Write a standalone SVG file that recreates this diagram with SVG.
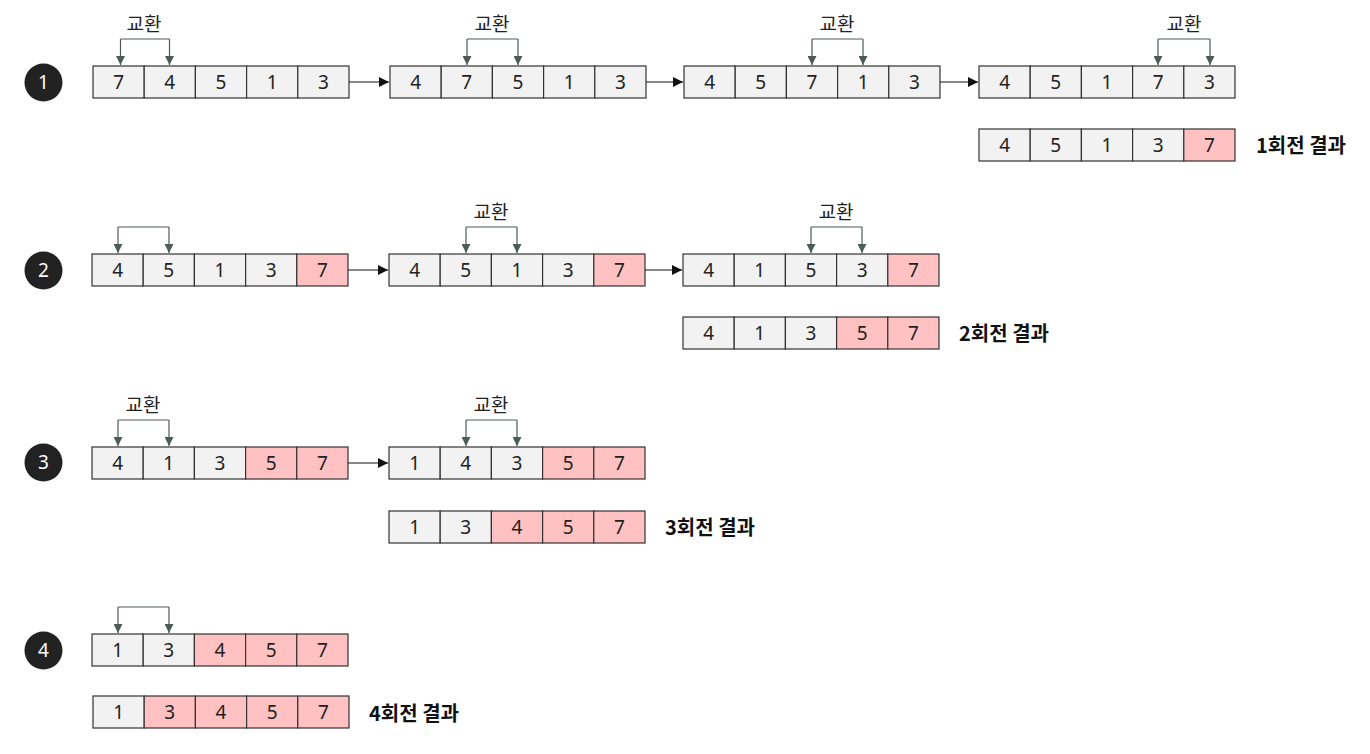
<svg xmlns="http://www.w3.org/2000/svg" width="1370" height="754" viewBox="0 0 1370 754">
<defs>
<marker id="sw" viewBox="0 0 10 10" refX="10" refY="5" markerWidth="9" markerHeight="9" markerUnits="userSpaceOnUse" orient="auto"><path d="M0,0 L10,5 L0,10 z" fill="#4d5b57"/></marker>
<marker id="ar" viewBox="0 0 10 10" refX="10" refY="5" markerWidth="10" markerHeight="10" markerUnits="userSpaceOnUse" orient="auto"><path d="M0,0 L10,5 L0,10 z" fill="#111"/></marker>
</defs>
<style>
.c{fill:#f2f2f2;stroke:#333;stroke-width:1.2}
.r{fill:#ffc1c1;stroke:#333;stroke-width:1.2}
.n{font-family:"Noto Sans","Noto Sans CJK KR",sans-serif;font-size:19px;fill:#222;text-anchor:middle}
.lbl{font-family:"Noto Sans CJK KR","Noto Sans",sans-serif;font-size:19px;fill:#222;text-anchor:middle}
.res{font-family:"Noto Sans CJK KR","Noto Sans",sans-serif;font-size:20px;font-weight:bold;fill:#111}
.sw{fill:none;stroke:#4d5b57;stroke-width:1.2}
.con{fill:none;stroke:#111;stroke-width:1}
.circ{fill:#222}
.ct{font-family:"Noto Sans",sans-serif;font-size:19px;fill:#fff;text-anchor:middle}
</style>
<rect width="1370" height="754" fill="#fff"/>

<g id="step1"><circle class="circ" cx="43.5" cy="82.5" r="19"/><text class="ct" x="43.5" y="89">1</text></g>
<g id="step2"><circle class="circ" cx="43.5" cy="270.5" r="19"/><text class="ct" x="43.5" y="277">2</text></g>
<g id="step3"><circle class="circ" cx="43.5" cy="462.5" r="19"/><text class="ct" x="43.5" y="469">3</text></g>
<g id="step4"><circle class="circ" cx="43.5" cy="650.5" r="19"/><text class="ct" x="43.5" y="657">4</text></g>

<!-- Row 1 -->
<g id="r1a1">
<rect class="c" x="93" y="66" width="51.2" height="32"/><rect class="c" x="144.2" y="66" width="51.2" height="32"/><rect class="c" x="195.4" y="66" width="51.2" height="32"/><rect class="c" x="246.6" y="66" width="51.2" height="32"/><rect class="c" x="297.8" y="66" width="51.2" height="32"/>
<text class="n" x="118.6" y="89">7</text><text class="n" x="169.8" y="89">4</text><text class="n" x="221" y="89">5</text><text class="n" x="272.2" y="89">1</text><text class="n" x="323.4" y="89">3</text>
</g>
<g id="r1a2">
<rect class="c" x="390" y="66" width="51.2" height="32"/><rect class="c" x="441.2" y="66" width="51.2" height="32"/><rect class="c" x="492.4" y="66" width="51.2" height="32"/><rect class="c" x="543.6" y="66" width="51.2" height="32"/><rect class="c" x="594.8" y="66" width="51.2" height="32"/>
<text class="n" x="415.6" y="89">4</text><text class="n" x="466.8" y="89">7</text><text class="n" x="518" y="89">5</text><text class="n" x="569.2" y="89">1</text><text class="n" x="620.4" y="89">3</text>
</g>
<g id="r1a3">
<rect class="c" x="684" y="66" width="51.2" height="32"/><rect class="c" x="735.2" y="66" width="51.2" height="32"/><rect class="c" x="786.4" y="66" width="51.2" height="32"/><rect class="c" x="837.6" y="66" width="51.2" height="32"/><rect class="c" x="888.8" y="66" width="51.2" height="32"/>
<text class="n" x="709.6" y="89">4</text><text class="n" x="760.8" y="89">5</text><text class="n" x="812" y="89">7</text><text class="n" x="863.2" y="89">1</text><text class="n" x="914.4" y="89">3</text>
</g>
<g id="r1a4">
<rect class="c" x="979" y="66" width="51.2" height="32"/><rect class="c" x="1030.2" y="66" width="51.2" height="32"/><rect class="c" x="1081.4" y="66" width="51.2" height="32"/><rect class="c" x="1132.6" y="66" width="51.2" height="32"/><rect class="c" x="1183.8" y="66" width="51.2" height="32"/>
<text class="n" x="1004.6" y="89">4</text><text class="n" x="1055.8" y="89">5</text><text class="n" x="1107" y="89">1</text><text class="n" x="1158.2" y="89">7</text><text class="n" x="1209.4" y="89">3</text>
</g>
<g id="r1res">
<rect class="c" x="979" y="129" width="51.2" height="32"/><rect class="c" x="1030.2" y="129" width="51.2" height="32"/><rect class="c" x="1081.4" y="129" width="51.2" height="32"/><rect class="c" x="1132.6" y="129" width="51.2" height="32"/><rect class="r" x="1183.8" y="129" width="51.2" height="32"/>
<text class="n" x="1004.6" y="152">4</text><text class="n" x="1055.8" y="152">5</text><text class="n" x="1107" y="152">1</text><text class="n" x="1158.2" y="152">3</text><text class="n" x="1209.4" y="152">7</text>
<text class="res" x="1256" y="153">1회전 결과</text>
</g>

<!-- Row 2 -->
<g id="r2a1">
<rect class="c" x="92" y="254" width="51.2" height="32"/><rect class="c" x="143.2" y="254" width="51.2" height="32"/><rect class="c" x="194.4" y="254" width="51.2" height="32"/><rect class="c" x="245.6" y="254" width="51.2" height="32"/><rect class="r" x="296.8" y="254" width="51.2" height="32"/>
<text class="n" x="117.6" y="277">4</text><text class="n" x="168.8" y="277">5</text><text class="n" x="220" y="277">1</text><text class="n" x="271.2" y="277">3</text><text class="n" x="322.4" y="277">7</text>
</g>
<g id="r2a2">
<rect class="c" x="389" y="254" width="51.2" height="32"/><rect class="c" x="440.2" y="254" width="51.2" height="32"/><rect class="c" x="491.4" y="254" width="51.2" height="32"/><rect class="c" x="542.6" y="254" width="51.2" height="32"/><rect class="r" x="593.8" y="254" width="51.2" height="32"/>
<text class="n" x="414.6" y="277">4</text><text class="n" x="465.8" y="277">5</text><text class="n" x="517" y="277">1</text><text class="n" x="568.2" y="277">3</text><text class="n" x="619.4" y="277">7</text>
</g>
<g id="r2a3">
<rect class="c" x="683" y="254" width="51.2" height="32"/><rect class="c" x="734.2" y="254" width="51.2" height="32"/><rect class="c" x="785.4" y="254" width="51.2" height="32"/><rect class="c" x="836.6" y="254" width="51.2" height="32"/><rect class="r" x="887.8" y="254" width="51.2" height="32"/>
<text class="n" x="708.6" y="277">4</text><text class="n" x="759.8" y="277">1</text><text class="n" x="811" y="277">5</text><text class="n" x="862.2" y="277">3</text><text class="n" x="913.4" y="277">7</text>
</g>
<g id="r2res">
<rect class="c" x="683" y="317" width="51.2" height="32"/><rect class="c" x="734.2" y="317" width="51.2" height="32"/><rect class="c" x="785.4" y="317" width="51.2" height="32"/><rect class="r" x="836.6" y="317" width="51.2" height="32"/><rect class="r" x="887.8" y="317" width="51.2" height="32"/>
<text class="n" x="708.6" y="340">4</text><text class="n" x="759.8" y="340">1</text><text class="n" x="811" y="340">3</text><text class="n" x="862.2" y="340">5</text><text class="n" x="913.4" y="340">7</text>
<text class="res" x="959" y="341">2회전 결과</text>
</g>

<!-- Row 3 -->
<g id="r3a1">
<rect class="c" x="92" y="447" width="51.2" height="32"/><rect class="c" x="143.2" y="447" width="51.2" height="32"/><rect class="c" x="194.4" y="447" width="51.2" height="32"/><rect class="r" x="245.6" y="447" width="51.2" height="32"/><rect class="r" x="296.8" y="447" width="51.2" height="32"/>
<text class="n" x="117.6" y="470">4</text><text class="n" x="168.8" y="470">1</text><text class="n" x="220" y="470">3</text><text class="n" x="271.2" y="470">5</text><text class="n" x="322.4" y="470">7</text>
</g>
<g id="r3a2">
<rect class="c" x="389" y="447" width="51.2" height="32"/><rect class="c" x="440.2" y="447" width="51.2" height="32"/><rect class="c" x="491.4" y="447" width="51.2" height="32"/><rect class="r" x="542.6" y="447" width="51.2" height="32"/><rect class="r" x="593.8" y="447" width="51.2" height="32"/>
<text class="n" x="414.6" y="470">1</text><text class="n" x="465.8" y="470">4</text><text class="n" x="517" y="470">3</text><text class="n" x="568.2" y="470">5</text><text class="n" x="619.4" y="470">7</text>
</g>
<g id="r3res">
<rect class="c" x="389" y="511" width="51.2" height="32"/><rect class="c" x="440.2" y="511" width="51.2" height="32"/><rect class="r" x="491.4" y="511" width="51.2" height="32"/><rect class="r" x="542.6" y="511" width="51.2" height="32"/><rect class="r" x="593.8" y="511" width="51.2" height="32"/>
<text class="n" x="414.6" y="534">1</text><text class="n" x="465.8" y="534">3</text><text class="n" x="517" y="534">4</text><text class="n" x="568.2" y="534">5</text><text class="n" x="619.4" y="534">7</text>
<text class="res" x="665" y="535">3회전 결과</text>
</g>

<!-- Row 4 -->
<g id="r4a1">
<rect class="c" x="92" y="634" width="51.2" height="32"/><rect class="c" x="143.2" y="634" width="51.2" height="32"/><rect class="r" x="194.4" y="634" width="51.2" height="32"/><rect class="r" x="245.6" y="634" width="51.2" height="32"/><rect class="r" x="296.8" y="634" width="51.2" height="32"/>
<text class="n" x="117.6" y="657">1</text><text class="n" x="168.8" y="657">3</text><text class="n" x="220" y="657">4</text><text class="n" x="271.2" y="657">5</text><text class="n" x="322.4" y="657">7</text>
</g>
<g id="r4res">
<rect class="c" x="93" y="696" width="51.2" height="32"/><rect class="r" x="144.2" y="696" width="51.2" height="32"/><rect class="r" x="195.4" y="696" width="51.2" height="32"/><rect class="r" x="246.6" y="696" width="51.2" height="32"/><rect class="r" x="297.8" y="696" width="51.2" height="32"/>
<text class="n" x="118.6" y="719">1</text><text class="n" x="169.8" y="719">3</text><text class="n" x="221" y="719">4</text><text class="n" x="272.2" y="719">5</text><text class="n" x="323.4" y="719">7</text>
<text class="res" x="369" y="721">4회전 결과</text>
</g>

<g id="connectors">
<path class="sw" d="M120.5,39 H169.5 M120.5,39 V65" marker-end="url(#sw)"/><path class="sw" d="M169.5,39 V65" marker-end="url(#sw)"/>
<path class="sw" d="M467,39 H518 M467,39 V65" marker-end="url(#sw)"/><path class="sw" d="M518,39 V65" marker-end="url(#sw)"/>
<path class="sw" d="M812,39 H863 M812,39 V65" marker-end="url(#sw)"/><path class="sw" d="M863,39 V65" marker-end="url(#sw)"/>
<path class="sw" d="M1158,39 H1210 M1158,39 V65" marker-end="url(#sw)"/><path class="sw" d="M1210,39 V65" marker-end="url(#sw)"/>

<path class="sw" d="M118,227 H169 M118,227 V253" marker-end="url(#sw)"/><path class="sw" d="M169,227 V253" marker-end="url(#sw)"/>
<path class="sw" d="M466,227 H517 M466,227 V253" marker-end="url(#sw)"/><path class="sw" d="M517,227 V253" marker-end="url(#sw)"/>
<path class="sw" d="M811,227 H862 M811,227 V253" marker-end="url(#sw)"/><path class="sw" d="M862,227 V253" marker-end="url(#sw)"/>

<path class="sw" d="M118,420 H169 M118,420 V446" marker-end="url(#sw)"/><path class="sw" d="M169,420 V446" marker-end="url(#sw)"/>
<path class="sw" d="M466,420 H517 M466,420 V446" marker-end="url(#sw)"/><path class="sw" d="M517,420 V446" marker-end="url(#sw)"/>

<path class="sw" d="M118,607 H169 M118,607 V633" marker-end="url(#sw)"/><path class="sw" d="M169,607 V633" marker-end="url(#sw)"/>

<path class="con" d="M349,82 H389" marker-end="url(#ar)"/>
<path class="con" d="M646,82 H683" marker-end="url(#ar)"/>
<path class="con" d="M940,82 H978" stroke="#999" marker-end="url(#ar)"/>
<path class="con" d="M348,270 H388" marker-end="url(#ar)"/>
<path class="con" d="M645,270 H682" marker-end="url(#ar)"/>
<path class="con" d="M348,463 H388" marker-end="url(#ar)"/>
</g>

<g id="labels">
<text class="lbl" x="144" y="31">교환</text>
<text class="lbl" x="492" y="31">교환</text>
<text class="lbl" x="837" y="31">교환</text>
<text class="lbl" x="1184" y="31">교환</text>
<text class="lbl" x="491" y="219">교환</text>
<text class="lbl" x="836" y="219">교환</text>
<text class="lbl" x="143" y="412">교환</text>
<text class="lbl" x="491" y="412">교환</text>
</g>
</svg>
